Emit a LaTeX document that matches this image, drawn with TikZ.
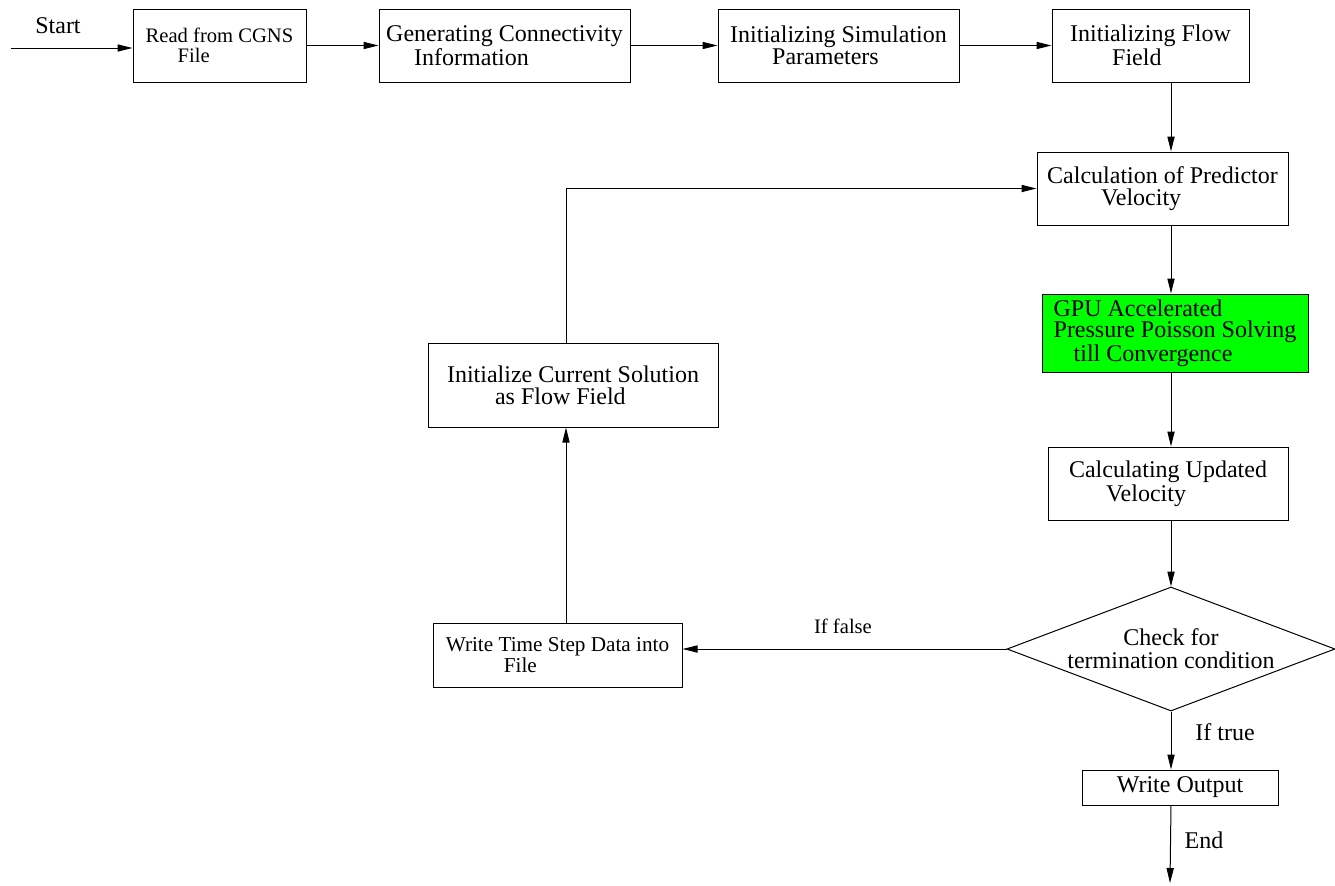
\documentclass[tikz,border=0pt]{standalone}
\usepackage{fontspec}
\setmainfont{Liberation Serif}
\usetikzlibrary{positioning, arrows.meta, shapes.geometric}

\begin{document}
\begin{tikzpicture}[
  x=0.5pt, y=-0.5pt,
  block/.style = {draw, line width=0.5pt, inner sep=0pt, align=left, minimum height=36.5pt, font=\fontsize{12}{10.8}\selectfont},
  decision/.style = {draw, diamond, line width=0.5pt, inner sep=0pt, align=center, aspect=2.65, font=\fontsize{12}{11.5}\selectfont},
  flow/.style = {draw, line width=0.5pt, -{Triangle[length=7.5pt, width=3.6pt]}},
  tag/.style = {anchor=base, font=\fontsize{12}{12}\selectfont}
]
  \useasboundingbox (0,0) rectangle (1335,885);

  % Place the top row
  \node[block, minimum width=86.5pt, font=\fontsize{10.3}{10}\selectfont] (read) at (219.5,45.5) {Read from CGNS\\\hspace*{16pt}File};
  \node[block, minimum width=125.5pt] (conn) at (504.5,45.5) {Generating Connectivity\\\hspace*{14pt}Information};
  \node[block, minimum width=120.5pt] (simp) at (838.5,45.5) {Initializing Simulation\\\hspace*{21pt}Parameters};
  \node[block, minimum width=98.5pt] (field) at (1150.5,45.5) {Initializing Flow\\\hspace*{21pt}Field};

  % Place the solver column
  \node[block, minimum width=125.5pt] (pred) at (1162.5,188.5) {Calculation of Predictor\\\hspace*{27pt}Velocity};
  \node[block, minimum width=133pt, minimum height=39pt, fill=green] (gpu) at (1175,333) {GPU Accelerated\\Pressure Poisson Solving\\\hspace*{10pt}till Convergence};
  \node[block, minimum width=120pt] (upd) at (1168,483.5) {Calculating Updated\\\hspace*{18.5pt}Velocity};
  \node[decision, minimum width=164pt, minimum height=62pt] (check) at (1171,649) {Check for\\termination condition};
  \node[block, minimum width=98pt, minimum height=17.5pt] (out) at (1180,787.5) {Write Output};

  % Place the time step loop
  \node[block, minimum width=124.5pt, minimum height=32pt, font=\fontsize{10.6}{10.5}\selectfont] (dump) at (557.5,655) {Write Time Step Data into\\\hspace*{29pt}File};
  \node[block, minimum width=145pt, minimum height=42pt] (reinit) at (573,385) {Initialize Current Solution\\\hspace*{24pt}as Flow Field};

  % Free ends and the loop corner
  \coordinate (entry) at (11,48);
  \coordinate (exit) at (1170,883);
  \coordinate (loop) at (566,191);

  % Labels
  \node[tag] (start_lbl) at (58,33) {Start};
  \node[tag, font=\fontsize{10.3}{10}\selectfont] (false_lbl) at (843,633) {If false};
  \node[tag] (true_lbl) at (1225,740) {If true};
  \node[tag] (end_lbl) at (1204,848) {End};

  % Draw the connectors
  \path[flow] (entry) -- (entry -| read.west);
  \path[flow] (read) -- (conn);
  \path[flow] (conn) -- (simp);
  \path[flow] (simp) -- (field);
  \path[flow] (field.south -| check.north) -- (pred.north -| check.north);
  \path[flow] (pred.south -| check.north) -- (gpu.north -| check.north);
  \path[flow] (gpu.south -| check.north) -- (upd.north -| check.north);
  \path[flow] (upd.south -| check.north) -- (check.north);
  \path[flow] (check.west) -- (check.west -| dump.east);
  \path[flow] (check.south) -- (out.north -| check.south);
  \path[flow] (out.south -| check.south) -- (exit);
  \path[flow] (dump.north -| loop) -- (reinit.south -| loop);
  \path[flow] (reinit.north -| loop) |- (pred.west);
\end{tikzpicture}
\end{document}
